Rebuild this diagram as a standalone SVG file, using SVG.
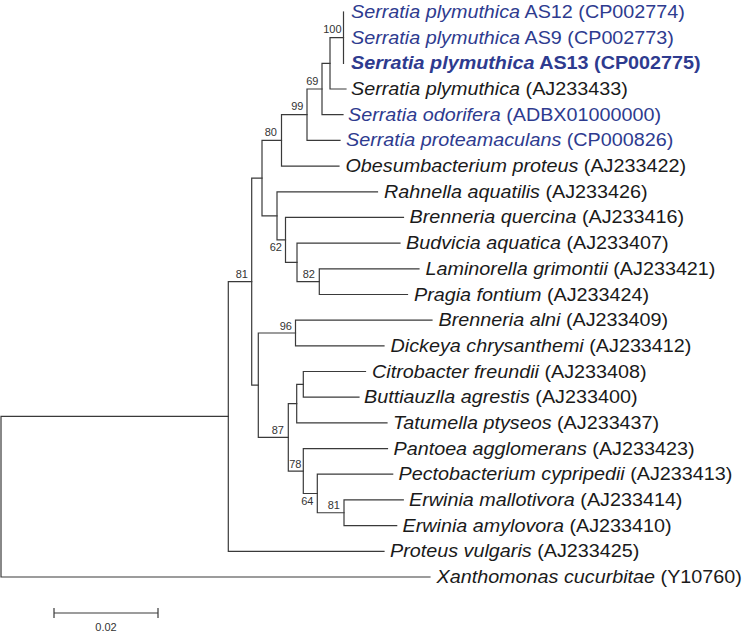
<svg xmlns="http://www.w3.org/2000/svg" width="750" height="634" viewBox="0 0 750 634">
<style>
.br{fill:none;stroke:#3a3a3a;stroke-width:1.2;stroke-linecap:square}
.lb{font-family:"Liberation Sans",Arial,sans-serif;font-size:17.5px;fill:#1a1a1a}
.bl{fill:#2e3b8f}
.bd{font-weight:bold}
.i{font-style:italic}
.bs{font-family:"Liberation Sans",Arial,sans-serif;font-size:11px;fill:#333;text-anchor:end}
.sc{font-family:"Liberation Sans",Arial,sans-serif;font-size:11px;fill:#333;text-anchor:middle}
</style>
<rect width="750" height="634" fill="#fff"/>
<g id="connectors" class="br">
<path d="M228.3 416.45H1V577H430"/>
<path d="M251.7 281.6H228.3V551.3H384"/>
<path d="M262 178.1H251.7V385.15H258.3"/>
<path d="M281.5 140.4H262V215.85H277"/>
<path d="M307 114.7H281.5V166.1H339"/>
<path d="M322 89H307V140.4H340"/>
<path d="M330 63.35H322V114.7H343"/>
<path d="M343.5 37.7H330V89H346"/>
<path d="M343.5 12V63.4"/>
<path d="M377.5 191.8H277V239.9H285.5"/>
<path d="M403.5 217.4H285.5V262.4H297"/>
<path d="M400 243.1H297V281.65H319.3"/>
<path d="M419 268.8H319.3V294.5H407.5"/>
<path d="M295.5 333H258.3V437.3H288.3"/>
<path d="M432 320.2H295.5V345.8H384"/>
<path d="M296.7 403.6H288.3V471.05H303.3"/>
<path d="M303.3 384.35H296.7V422.9H387"/>
<path d="M365.5 371.5H303.3V397.2H359"/>
<path d="M387.5 448.6H303.3V493.5H317.3"/>
<path d="M392.7 474.2H317.3V512.75H344"/>
<path d="M403.3 499.9H344V525.6H396.7"/>
</g>
<g id="leaf-AS12"><text class="lb bl" transform="translate(351,18) scale(1.13,1)"><tspan class="i">Serratia plymuthica</tspan> AS12 (CP002774)</text></g>
<g id="leaf-AS9"><text class="lb bl" transform="translate(351,43.7) scale(1.13,1)"><tspan class="i">Serratia plymuthica</tspan> AS9 (CP002773)</text></g>
<g id="leaf-AS13"><text class="lb bl bd" transform="translate(351,69.4) scale(1.13,1)"><tspan class="i">Serratia plymuthica</tspan> AS13 (CP002775)</text></g>
<g id="leaf-AJ233433"><text class="lb" transform="translate(351,95) scale(1.13,1)"><tspan class="i">Serratia plymuthica</tspan> (AJ233433)</text></g>
<g id="leaf-odorifera"><text class="lb bl" transform="translate(348,120.7) scale(1.13,1)"><tspan class="i">Serratia odorifera</tspan> (ADBX01000000)</text></g>
<g id="leaf-proteamaculans"><text class="lb bl" transform="translate(346,146.4) scale(1.13,1)"><tspan class="i">Serratia proteamaculans</tspan> (CP000826)</text></g>
<g id="leaf-Obesumbacterium"><text class="lb" transform="translate(345.5,172.1) scale(1.13,1)"><tspan class="i">Obesumbacterium proteus</tspan> (AJ233422)</text></g>
<g id="leaf-Rahnella"><text class="lb" transform="translate(384,197.8) scale(1.13,1)"><tspan class="i">Rahnella aquatilis</tspan> (AJ233426)</text></g>
<g id="leaf-Bquercina"><text class="lb" transform="translate(409.5,223.4) scale(1.13,1)"><tspan class="i">Brenneria quercina</tspan> (AJ233416)</text></g>
<g id="leaf-Budvicia"><text class="lb" transform="translate(406,249.1) scale(1.13,1)"><tspan class="i">Budvicia aquatica</tspan> (AJ233407)</text></g>
<g id="leaf-Laminorella"><text class="lb" transform="translate(425.5,274.8) scale(1.13,1)"><tspan class="i">Laminorella grimontii</tspan> (AJ233421)</text></g>
<g id="leaf-Pragia"><text class="lb" transform="translate(414,300.5) scale(1.13,1)"><tspan class="i">Pragia fontium</tspan> (AJ233424)</text></g>
<g id="leaf-Balni"><text class="lb" transform="translate(438.5,326.2) scale(1.13,1)"><tspan class="i">Brenneria alni</tspan> (AJ233409)</text></g>
<g id="leaf-Dickeya"><text class="lb" transform="translate(390.5,351.8) scale(1.13,1)"><tspan class="i">Dickeya chrysanthemi</tspan> (AJ233412)</text></g>
<g id="leaf-Citrobacter"><text class="lb" transform="translate(372,377.5) scale(1.13,1)"><tspan class="i">Citrobacter freundii</tspan> (AJ233408)</text></g>
<g id="leaf-Buttiauzlla"><text class="lb" transform="translate(364,403.2) scale(1.13,1)"><tspan class="i">Buttiauzlla agrestis</tspan> (AJ233400)</text></g>
<g id="leaf-Tatumella"><text class="lb" transform="translate(393,428.9) scale(1.13,1)"><tspan class="i">Tatumella ptyseos</tspan> (AJ233437)</text></g>
<g id="leaf-Pantoea"><text class="lb" transform="translate(393.5,454.6) scale(1.13,1)"><tspan class="i">Pantoea agglomerans</tspan> (AJ233423)</text></g>
<g id="leaf-Pectobacterium"><text class="lb" transform="translate(398.5,480.2) scale(1.13,1)"><tspan class="i">Pectobacterium cypripedii</tspan> (AJ233413)</text></g>
<g id="leaf-Emallotivora"><text class="lb" transform="translate(409,505.9) scale(1.13,1)"><tspan class="i">Erwinia mallotivora</tspan> (AJ233414)</text></g>
<g id="leaf-Eamylovora"><text class="lb" transform="translate(402.5,531.6) scale(1.13,1)"><tspan class="i">Erwinia amylovora</tspan> (AJ233410)</text></g>
<g id="leaf-Proteus"><text class="lb" transform="translate(390,557.3) scale(1.13,1)"><tspan class="i">Proteus vulgaris</tspan> (AJ233425)</text></g>
<g id="leaf-Xanthomonas"><text class="lb" transform="translate(436.5,583) scale(1.13,1)"><tspan class="i">Xanthomonas cucurbitae</tspan> (Y10760)</text></g>
<g id="node-100"><text class="bs" x="341.5" y="33">100</text></g>
<g id="node-69"><text class="bs" x="318.5" y="85">69</text></g>
<g id="node-99"><text class="bs" x="303.5" y="110">99</text></g>
<g id="node-80"><text class="bs" x="277" y="136">80</text></g>
<g id="node-62"><text class="bs" x="282" y="251">62</text></g>
<g id="node-82"><text class="bs" x="315" y="278">82</text></g>
<g id="node-81a"><text class="bs" x="248" y="277.5">81</text></g>
<g id="node-96"><text class="bs" x="292" y="329.5">96</text></g>
<g id="node-87"><text class="bs" x="284" y="433.5">87</text></g>
<g id="node-78"><text class="bs" x="301.5" y="467.5">78</text></g>
<g id="node-64"><text class="bs" x="313.5" y="505">64</text></g>
<g id="node-81b"><text class="bs" x="340" y="508.5">81</text></g>
<g id="scale-bar">
<path class="br" d="M54 613H158M54 608.5V617.5M158 608.5V617.5"/>
<text class="sc" x="106" y="631">0.02</text>
</g>
</svg>
